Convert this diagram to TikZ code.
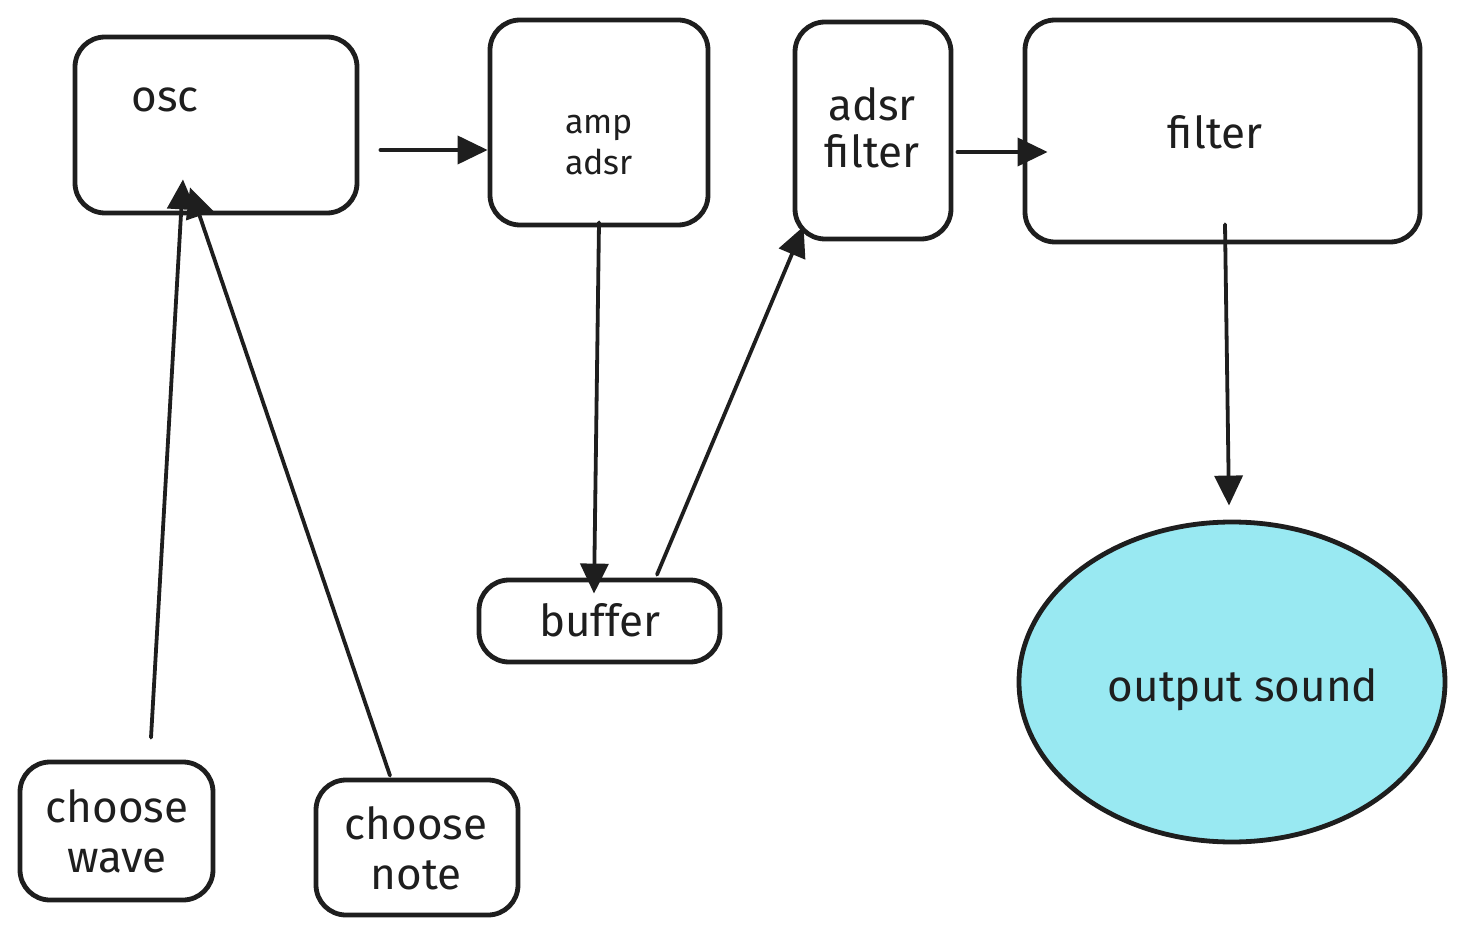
\documentclass[tikz,border=0pt]{standalone}
\usepackage{fontspec}
\setmainfont{Fira Sans}
\usetikzlibrary{arrows.meta,shapes.geometric,calc}
\definecolor{ink}{HTML}{1E1E1E}
\definecolor{cyanfill}{HTML}{99E9F2}
\tikzset{
  box/.style={draw=ink,line width=2.4pt,rounded corners=15pt,inner sep=0pt},
  lbl/.style={text=ink,align=center,inner sep=0pt},
  big/.style={font=\fontsize{22}{25}\selectfont},
  small/.style={font=\fontsize{17}{20.5}\selectfont},
  conn/.style={draw=ink,line width=1.9pt,line cap=round,-{Triangle[length=15pt,width=14pt]}},
}
\begin{document}
\begin{tikzpicture}[x=0.5pt,y=-0.5pt]
\useasboundingbox (0,0) rectangle (1462,936);
% boxes
\node[box,minimum width=141pt,minimum height=88pt] (osc) at (216,125) {};
\node[box,minimum width=109pt,minimum height=102.5pt] (amp) at (599,122.5) {};
\node[box,minimum width=78pt,minimum height=108.5pt] (adsrf) at (873,130.5) {};
\node[box,minimum width=197.5pt,minimum height=111pt] (filt) at (1222.5,131) {};
\node[box,minimum width=120.5pt,minimum height=41pt] (buffer) at (599.5,621) {};
\node[box,minimum width=96.5pt,minimum height=69pt] (wave) at (116.5,831) {};
\node[box,minimum width=101pt,minimum height=67.5pt] (note) at (417,847.5) {};
\node[ellipse,draw=ink,fill=cyanfill,line width=2.4pt,minimum width=213pt,minimum height=160pt,inner sep=0pt] (out) at (1232,682) {};
% labels
\node[lbl,big] (tosc) at (165,100) {osc};
\node[lbl,small] (tamp) at (599,145) {amp\\adsr};
\node[lbl,big,font=\fontsize{22}{23.5}\selectfont] (tadsrf) at (872,128) {adsr\\filter};
\node[lbl,big] (tfilt) at (1215,132) {filter};
\node[lbl,big] (tbuf) at (600,620) {buffer};
\node[lbl,big] (twave) at (117,831) {choose\\wave};
\node[lbl,big] (tnote) at (416,848) {choose\\note};
\node[lbl,big] (tout) at (1243,690) {output sound};
% connectors
\draw[conn] ($(osc.east)+(21,25)$) -- ($(amp.west)+(0,27.5)$);
\draw[conn] ($(amp.south)+(0,-5)$) -- ($(buffer.north)+(-5.5,16)$);
\draw[conn] ($(buffer.north)+(57.5,-3)$) -- ($(adsrf.south west)+(11,-15)$);
\draw[conn] ($(adsrf.east)+(4,21.5)$) -- ($(filt.west)+(25,21)$);
\draw[conn] ($(filt.south)+(2.5,-20)$) -- ($(out.north)+(-3,-14)$);
\draw[conn] ($(wave.north)+(34.5,-22)$) -- ($(osc.south)+(-33,-36)$);
\draw[conn] ($(note.north)+(-27,-2)$) -- ($(osc.south)+(-26,-28)$);
\end{tikzpicture}
\end{document}
